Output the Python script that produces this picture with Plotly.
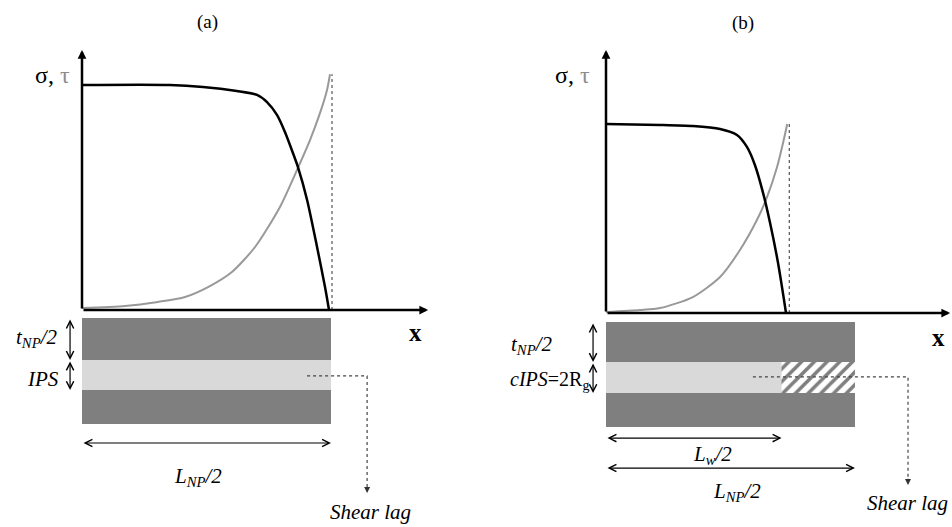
import plotly.graph_objects as go

# ---------------- data (x in units of L_NP/2, y = normalised stress) ----------------
a_sigma_x = [0, 0.353, 0.486, 0.622, 0.703, 0.743, 0.783, 0.815, 0.847, 0.867, 0.904, 0.944, 0.976, 0.992]
a_sigma_y = [1.0, 1.0, 0.991, 0.973, 0.956, 0.924, 0.867, 0.791, 0.698, 0.636, 0.489, 0.28, 0.102, 0.0]
a_tau_x = [0, 0.173, 0.305, 0.414, 0.506, 0.602, 0.695, 0.795, 0.867, 0.916, 0.956, 0.984, 0.996]
a_tau_y = [0.009, 0.018, 0.036, 0.058, 0.102, 0.169, 0.28, 0.458, 0.631, 0.756, 0.876, 0.978, 1.048]

b_sigma_x = [0, 0.217, 0.349, 0.458, 0.526, 0.566, 0.598, 0.631, 0.659, 0.691, 0.723]
b_sigma_y = [0.84, 0.836, 0.831, 0.818, 0.791, 0.738, 0.658, 0.533, 0.40, 0.222, 0.0]
b_tau_x = [0, 0.137, 0.217, 0.349, 0.458, 0.538, 0.606, 0.647, 0.687, 0.711, 0.728]
b_tau_y = [0.004, 0.013, 0.022, 0.071, 0.16, 0.28, 0.413, 0.516, 0.649, 0.756, 0.84]

# layer boundaries of the nanoplatelet sketch (top dark / IPS / bottom dark)
a_layers = [-0.036, -0.222, -0.356, -0.507]
b_layers = [-0.040, -0.218, -0.356, -0.507]
L_NP_half = 1.0
b_Lw_half = 0.705

panel_titles = ["(a)", "(b)"]

DARK = "#7f7f7f"
LIGHT = "#d9d9d9"
TAU = "#999999"
SERIF = "Liberation Serif, Times New Roman, Times, serif"

fig = go.Figure()
annotations = []
shapes = []


def add_arrow(xr, yr, x0, y0, x1, y1, width=1.2, head=5, both=False, size=1.2, color="black"):
    a = dict(x=x1, y=y1, ax=x0, ay=y0, xref=xr, yref=yr, axref=xr, ayref=yr,
             text="", showarrow=True, arrowhead=head, arrowsize=size,
             arrowwidth=width, arrowcolor=color, standoff=0, startstandoff=0)
    if both:
        a.update(arrowside="end+start", startarrowhead=head, startarrowsize=size)
    annotations.append(a)


def label(xr, yr, x, y, text, size=15, italic=False, color="black", xanchor="center"):
    if italic:
        text = "<i>" + text + "</i>"
    annotations.append(dict(x=x, y=y, xref=xr, yref=yr, text=text, showarrow=False,
                            xanchor=xanchor, yanchor="middle",
                            font=dict(family=SERIF, size=size, color=color)))


def panel(xa, ya, sx, sy, tx, ty, layers, ytip, xtip, hatch_from=None):
    xr, yr = xa, ya
    fig.add_trace(go.Scatter(x=tx, y=ty, mode="lines", xaxis=xa, yaxis=ya,
                             line=dict(color=TAU, width=2, shape="spline", smoothing=0.7),
                             hoverinfo="skip", showlegend=False))
    fig.add_trace(go.Scatter(x=sx, y=sy, mode="lines", xaxis=xa, yaxis=ya,
                             line=dict(color="black", width=2.5, shape="spline", smoothing=0.7),
                             hoverinfo="skip", showlegend=False))
    xe = tx[-1] + 0.008
    fig.add_trace(go.Scatter(x=[xe, xe], y=[0, ty[-1]], mode="lines", xaxis=xa, yaxis=ya,
                             line=dict(color="#333333", width=1, dash="dot"),
                             hoverinfo="skip", showlegend=False))
    add_arrow(xr, yr, 0, 0, 0, ytip, width=2.5, head=2, size=0.7)
    add_arrow(xr, yr, 0, 0, xtip, 0, width=2.5, head=2, size=0.7)
    t0, t1, t2, t3 = layers
    for (y0, y1, c) in [(t1, t0, DARK), (t2, t1, LIGHT), (t3, t2, DARK)]:
        shapes.append(dict(type="rect", xref=xr, yref=yr, x0=0, x1=L_NP_half, y0=y0, y1=y1,
                           fillcolor=c, line=dict(width=0), layer="below"))
    if hatch_from is not None:
        fig.add_trace(go.Scatter(x=[hatch_from, L_NP_half, L_NP_half, hatch_from, hatch_from],
                                 y=[t1, t1, t2, t2, t1], mode="lines", fill="toself",
                                 xaxis=xa, yaxis=ya, line=dict(width=0, color="white"),
                                 fillcolor="white",
                                 fillpattern=dict(shape="/", fgcolor="black", bgcolor="white",
                                                  size=9, solidity=0.4),
                                 hoverinfo="skip", showlegend=False))
    return t0, t1, t2, t3


# ---------------- panel (a) ----------------
t0, t1, t2, t3 = panel("x", "y", a_sigma_x, a_sigma_y, a_tau_x, a_tau_y, a_layers, 1.156, 1.39)
label("x", "y", 0.502, 1.28, panel_titles[0], size=19)
label("x", "y", -0.12, 1.044, "σ, <span style='color:#8c8c8c'>τ</span>", size=24)
label("x", "y", 1.341, -0.098, "<b>x</b>", size=25)
add_arrow("x", "y", -0.048, t0, -0.048, t1, both=True)
add_arrow("x", "y", -0.048, t1, -0.048, t2, both=True)
label("x", "y", -0.183, -0.124, "t<sub>NP</sub>/2", size=21, italic=True)
label("x", "y", -0.157, -0.307, "IPS", size=21, italic=True)
add_arrow("x", "y", 0, -0.591, L_NP_half, -0.591, both=True)
label("x", "y", 0.466, -0.742, "L<sub>NP</sub>/2", size=21, italic=True)
fig.add_trace(go.Scatter(x=[0.904, 1.145, 1.145], y=[-0.293, -0.293, -0.80], mode="lines",
                         xaxis="x", yaxis="y", line=dict(color="#444444", width=1.2, dash="dot"),
                         hoverinfo="skip", showlegend=False))
add_arrow("x", "y", 1.145, -0.78, 1.145, -0.813, width=1, head=2, size=1.2, color="#333333")
label("x", "y", 1.157, -0.898, "Shear lag", size=21, italic=True)

# ---------------- panel (b) ----------------
t0, t1, t2, t3 = panel("x2", "y2", b_sigma_x, b_sigma_y, b_tau_x, b_tau_y, b_layers,
                       1.169, 1.382, hatch_from=b_Lw_half)
label("x2", "y2", 0.55, 1.289, panel_titles[1], size=19)
label("x2", "y2", -0.133, 1.058, "σ, <span style='color:#8c8c8c'>τ</span>", size=24)
label("x2", "y2", 1.337, -0.107, "<b>x</b>", size=25)
add_arrow("x2", "y2", -0.052, t0, -0.052, t1, both=True)
add_arrow("x2", "y2", -0.052, t1, -0.052, t2, both=True)
label("x2", "y2", -0.30, -0.142, "t<sub>NP</sub>/2", size=21, italic=True)
label("x2", "y2", -0.225, -0.298, "<i>cIPS</i>=2R<sub>g</sub>", size=20)
add_arrow("x2", "y2", 0, -0.556, b_Lw_half, -0.556, both=True)
label("x2", "y2", 0.426, -0.631, "L<sub>w</sub>/2", size=21, italic=True)
add_arrow("x2", "y2", 0, -0.689, L_NP_half, -0.689, both=True)
label("x2", "y2", 0.526, -0.796, "L<sub>NP</sub>/2", size=21, italic=True)
fig.add_trace(go.Scatter(x=[0.59, 1.213, 1.213], y=[-0.284, -0.284, -0.75], mode="lines",
                         xaxis="x2", yaxis="y2", line=dict(color="#444444", width=1.2, dash="dot"),
                         hoverinfo="skip", showlegend=False))
add_arrow("x2", "y2", 1.213, -0.73, 1.213, -0.764, width=1, head=2, size=1.2, color="#333333")
label("x2", "y2", 1.209, -0.844, "Shear lag", size=21, italic=True)

ax_common = dict(visible=False, showgrid=False, zeroline=False, fixedrange=True)
fig.update_layout(
    width=952, height=527,
    margin=dict(l=0, r=0, t=0, b=0),
    paper_bgcolor="white", plot_bgcolor="white",
    showlegend=False,
    font=dict(family=SERIF),
    xaxis=dict(domain=[0, 0.5], range=[-0.3293, 1.5823], anchor="y", **ax_common),
    yaxis=dict(domain=[0, 1], range=[-0.9644, 1.3778], anchor="x", **ax_common),
    xaxis2=dict(domain=[0.5, 1], range=[-0.5221, 1.3896], anchor="y2", **ax_common),
    yaxis2=dict(domain=[0, 1], range=[-0.9511, 1.3911], anchor="x2", **ax_common),
    annotations=annotations,
    shapes=shapes,
)

fig.write_html("out.html", config={"displayModeBar": False},
               post_script="document.body.style.margin='0';document.body.style.overflow='hidden';")
